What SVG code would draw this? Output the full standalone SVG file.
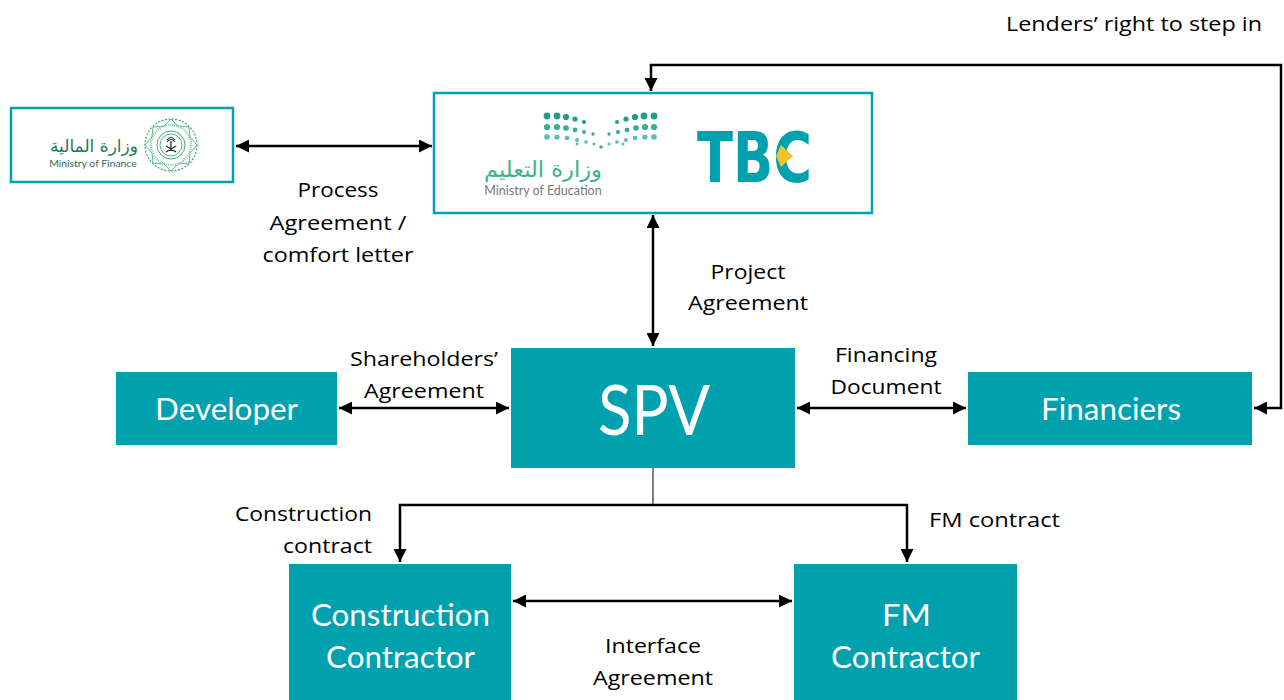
<svg xmlns="http://www.w3.org/2000/svg" width="1284" height="700" viewBox="0 0 1284 700">
<defs>
<style>
.box{fill:#00A1AF;}
.logo{fill:#fff;stroke:#00A1AF;stroke-width:2.5;}
.ntxt{font-family:Lato,"Open Sans",sans-serif;fill:#fff;text-anchor:middle;}
.lbl{font-family:"Open Sans",Lato,sans-serif;font-size:19.5px;fill:#000;text-anchor:middle;}
.con{fill:none;stroke:#000;stroke-width:2.5;}
.thin{fill:none;stroke:#000;stroke-width:1;}
.d1{fill:#1E9E86;}
.d2{fill:#35AE94;}
.d3{fill:#5BC0A8;}
</style>
<marker id="ah" viewBox="0 0 12 12" markerUnits="userSpaceOnUse" markerWidth="13" markerHeight="13" refX="12" refY="6" orient="auto-start-reverse">
<path d="M0,0 L12,6 L0,12 z" fill="#000"/>
</marker>
</defs>

<g id="connectors">
<line class="con" x1="236" y1="146" x2="432" y2="146" marker-start="url(#ah)" marker-end="url(#ah)"/>
<line class="con" x1="653" y1="215" x2="653" y2="346" marker-start="url(#ah)" marker-end="url(#ah)"/>
<line class="con" x1="339" y1="408" x2="509" y2="408" marker-start="url(#ah)" marker-end="url(#ah)"/>
<line class="con" x1="797" y1="408" x2="966" y2="408" marker-start="url(#ah)" marker-end="url(#ah)"/>
<polyline class="con" points="1254,408 1281,408 1281,65 651,65 651,91" marker-start="url(#ah)" marker-end="url(#ah)"/>
<line class="thin" x1="653" y1="468" x2="653" y2="505"/>
<polyline class="con" points="400,562 400,505 907,505 907,562" marker-start="url(#ah)" marker-end="url(#ah)"/>
<line class="con" x1="513" y1="601" x2="792" y2="601" marker-start="url(#ah)" marker-end="url(#ah)"/>
</g>

<g id="labels">
<text class="lbl" x="1134" y="31" textLength="256" lengthAdjust="spacingAndGlyphs">Lenders’ right to step in</text>
<text class="lbl" x="338" y="197" textLength="81" lengthAdjust="spacingAndGlyphs">Process</text>
<text class="lbl" x="338" y="230" textLength="137" lengthAdjust="spacingAndGlyphs">Agreement /</text>
<text class="lbl" x="338" y="262" textLength="151" lengthAdjust="spacingAndGlyphs">comfort letter</text>
<text class="lbl" x="748" y="279" textLength="75" lengthAdjust="spacingAndGlyphs">Project</text>
<text class="lbl" x="748" y="310" textLength="120" lengthAdjust="spacingAndGlyphs">Agreement</text>
<text class="lbl" x="424" y="366" textLength="148" lengthAdjust="spacingAndGlyphs">Shareholders’</text>
<text class="lbl" x="424" y="398" textLength="120" lengthAdjust="spacingAndGlyphs">Agreement</text>
<text class="lbl" x="886" y="362" textLength="102" lengthAdjust="spacingAndGlyphs">Financing</text>
<text class="lbl" x="886" y="394" textLength="111" lengthAdjust="spacingAndGlyphs">Document</text>
<text class="lbl" x="303.5" y="521" textLength="137" lengthAdjust="spacingAndGlyphs">Construction</text>
<text class="lbl" x="327.5" y="553" textLength="89" lengthAdjust="spacingAndGlyphs">contract</text>
<text class="lbl" x="994.5" y="527" textLength="131" lengthAdjust="spacingAndGlyphs">FM contract</text>
<text class="lbl" x="653" y="653" textLength="96" lengthAdjust="spacingAndGlyphs">Interface</text>
<text class="lbl" x="653" y="685" textLength="120" lengthAdjust="spacingAndGlyphs">Agreement</text>
</g>

<g id="ministry-of-finance">
<rect class="logo" x="11" y="108" width="222" height="74"/>
<text x="94" y="152" font-family="DejaVu Sans,sans-serif" font-size="17" fill="#1F7A55" text-anchor="middle">وزارة المالية</text>
<text x="93" y="167" font-family="Lato,sans-serif" font-size="10.4" fill="#2C6E50" text-anchor="middle">Ministry of Finance</text>
<g transform="translate(171,145)">
<circle r="26" fill="none" stroke="#3FA879" stroke-width="1.2" stroke-dasharray="2 1.5"/>
<polygon points="0,-26 7,-19 18,-18 19,-8 26,0 19,8 18,18 7,19 0,26 -7,19 -18,18 -19,8 -26,0 -19,-8 -18,-18 -7,-19" fill="none" stroke="#56B98A" stroke-width="1"/>
<circle r="20" fill="none" stroke="#7FCBA4" stroke-width="2.5" stroke-dasharray="1 1.2"/>
<circle r="14" fill="none" stroke="#3FA879" stroke-width="1"/>
<circle r="11" fill="#fff" stroke="#2E9E6B" stroke-width="0.8"/>
<path d="M0,6 L0,-4 M-4,-5 Q0,-10 4,-5 M-4,-3 Q0,-8 4,-3 M-5,7 L5,1 M5,7 L-5,1" stroke="#222" stroke-width="1.2" fill="none"/>
</g>
</g>

<g id="ministry-of-education">
<rect class="logo" x="434" y="93" width="438" height="120"/>
<g>
<circle class="d1" cx="547" cy="116" r="3.4"/><circle class="d1" cx="557" cy="116" r="3.4"/><circle class="d1" cx="566" cy="117" r="3.1"/><circle class="d1" cx="575" cy="119" r="2.6"/><circle class="d1" cx="584" cy="122" r="2.1"/>
<circle class="d1" cx="617" cy="122" r="2.1"/><circle class="d1" cx="626" cy="119" r="2.6"/><circle class="d1" cx="635" cy="117" r="3.1"/><circle class="d1" cx="644" cy="116" r="3.4"/><circle class="d1" cx="654" cy="116" r="3.4"/>
<circle class="d2" cx="547" cy="127" r="3.1"/><circle class="d2" cx="557" cy="127" r="3.1"/><circle class="d2" cx="566" cy="128" r="2.8"/><circle class="d2" cx="575" cy="130" r="2.4"/><circle class="d2" cx="584" cy="132" r="2"/><circle class="d2" cx="593" cy="134" r="1.7"/>
<circle class="d2" cx="609" cy="134" r="1.7"/><circle class="d2" cx="618" cy="132" r="2"/><circle class="d2" cx="627" cy="130" r="2.4"/><circle class="d2" cx="636" cy="128" r="2.8"/><circle class="d2" cx="645" cy="127" r="3.1"/><circle class="d2" cx="654" cy="127" r="3.1"/>
<circle class="d3" cx="547" cy="137" r="2.8"/><circle class="d3" cx="557" cy="137" r="2.6"/><circle class="d3" cx="567" cy="138" r="2.3"/><circle class="d3" cx="577" cy="140" r="2"/><circle class="d3" cx="586" cy="142" r="1.8"/><circle class="d3" cx="594" cy="144" r="1.6"/><circle class="d2" cx="601" cy="147" r="1.7"/>
<circle class="d3" cx="609" cy="144" r="1.6"/><circle class="d3" cx="617" cy="142" r="1.8"/><circle class="d3" cx="626" cy="140" r="2"/><circle class="d3" cx="635" cy="138" r="2.3"/><circle class="d3" cx="645" cy="137" r="2.6"/><circle class="d3" cx="654" cy="137" r="2.8"/>
<circle class="d3" cx="577" cy="144" r="1.5"/><circle class="d3" cx="623" cy="144" r="1.5"/>
</g>
<text x="543" y="177" font-family="DejaVu Sans,sans-serif" font-size="22" fill="#3DB38A" text-anchor="middle" textLength="118" lengthAdjust="spacingAndGlyphs">وزارة التعليم</text>
<text x="543" y="195" font-family="Lato,sans-serif" font-size="12.5" fill="#777" text-anchor="middle">Ministry of Education</text>
<text x="697" y="182" font-family="DejaVu Sans,sans-serif" font-weight="bold" font-size="70" fill="#00A1AF" textLength="115" lengthAdjust="spacingAndGlyphs">TBC</text>
<polygon points="781,145 793,156 781,167 776,156" fill="#F2C232"/>
</g>

<g id="spv">
<rect class="box" x="511" y="348" width="284" height="120"/>
<text class="ntxt" x="654" y="435" font-size="69" textLength="112" lengthAdjust="spacingAndGlyphs">SPV</text>
</g>
<g id="developer">
<rect class="box" x="116" y="372" width="221" height="73"/>
<text class="ntxt" x="226.5" y="420" font-size="31.5" textLength="143" lengthAdjust="spacingAndGlyphs">Developer</text>
</g>
<g id="financiers">
<rect class="box" x="968" y="372" width="284" height="73"/>
<text class="ntxt" x="1111" y="420" font-size="31.5" textLength="140" lengthAdjust="spacingAndGlyphs">Financiers</text>
</g>
<g id="construction-contractor">
<rect class="box" x="289" y="564" width="222" height="136"/>
<text class="ntxt" x="400.5" y="626" font-size="31" textLength="179" lengthAdjust="spacingAndGlyphs">Construction</text>
<text class="ntxt" x="400.5" y="668" font-size="31" textLength="149" lengthAdjust="spacingAndGlyphs">Contractor</text>
</g>
<g id="fm-contractor">
<rect class="box" x="794" y="564" width="223" height="136"/>
<text class="ntxt" x="906.5" y="626" font-size="31" textLength="49" lengthAdjust="spacingAndGlyphs">FM</text>
<text class="ntxt" x="905.5" y="668" font-size="31" textLength="149" lengthAdjust="spacingAndGlyphs">Contractor</text>
</g>
</svg>
